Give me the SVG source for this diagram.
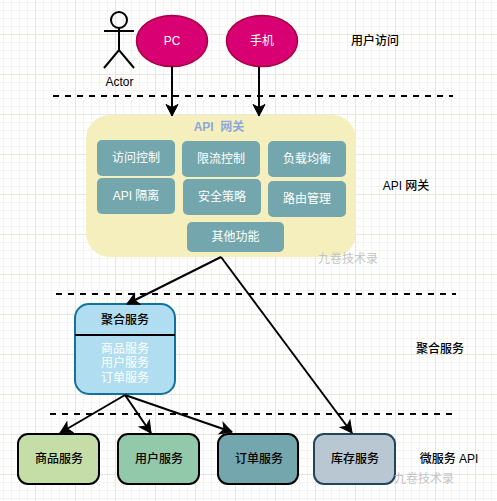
<svg xmlns="http://www.w3.org/2000/svg" width="497" height="501" viewBox="0 0 497 501">
<style>
text{font-family:"Liberation Sans","Noto Sans CJK SC",sans-serif;font-size:12px;text-anchor:middle}
.w{fill:#fff}.b{fill:#000}.lb{font-weight:500}
.wm{fill:#c4c4c4}
.in{fill:#74a7ad}
.ell{fill:#d80073;stroke:#a50040;stroke-width:1.5}
.svc{stroke-width:2}
.dash{stroke:#000;stroke-width:2;stroke-dasharray:6 6;fill:none}
.conn{stroke:#000;stroke-width:2;fill:none;marker-end:url(#ah)}
.act{stroke:#000;stroke-width:2;fill:none}
</style>
<defs>
<marker id="ah" markerUnits="userSpaceOnUse" markerWidth="15" markerHeight="15" refX="12.500" refY="7" orient="auto" viewBox="0 0 15 14"><path d="M1 1L12.500 7L1 13L4 7Z" fill="#000" stroke="#000" stroke-width="1"/></marker>
<pattern id="minor" width="8" height="8" patternUnits="userSpaceOnUse" x="-5" y="-6"><path d="M8 0.500H0.500V8" fill="none" stroke="#f4f3ee" stroke-width="1"/></pattern>
<pattern id="major" width="40" height="40" patternUnits="userSpaceOnUse" x="-5" y="-6"><path d="M40 0.500H0.500V40" fill="none" stroke="#e6e5de" stroke-width="1"/></pattern>
</defs>
<rect width="497" height="501" fill="#fff"/>
<rect width="497" height="501" fill="url(#minor)"/>
<rect width="497" height="501" fill="url(#major)"/>
<g id="separators">
<path class="dash" d="M53 96H453"/>
<path class="dash" d="M56 294H456"/>
<path class="dash" d="M50 414H452"/>
</g>
<g id="actor">
<circle class="act" cx="119" cy="20" r="8"/>
<path class="act" d="M104 31H134M119 28V50M104 68L119 50L134 68"/>
<text x="119.500" y="86" class="b">Actor</text>
</g>
<g id="pc"><ellipse class="ell" cx="172" cy="41" rx="35.500" ry="25.500"/><text x="172" y="45" class="w">PC</text></g>
<g id="phone"><ellipse class="ell" cx="262" cy="41" rx="35.500" ry="25.500"/><text x="262" y="45" class="w">手机</text></g>
<text id="label-user" x="375" y="44.500" class="b lb">用户访问</text>
<g id="gateway">
<rect x="86" y="115" width="270" height="142" rx="24" fill="#f5efbd"/>
<text x="219" y="131" fill="#8fa8dc" font-weight="bold" style="white-space:pre">API  网关</text>
<g id="g1"><rect class="in" x="97" y="140" width="78" height="36" rx="5"/><text x="136" y="162" class="w">访问控制</text></g>
<g id="g2"><rect class="in" x="182" y="141" width="78" height="36" rx="5"/><text x="221" y="163" class="w">限流控制</text></g>
<g id="g3"><rect class="in" x="268" y="141" width="78" height="36" rx="5"/><text x="307" y="163" class="w">负载均衡</text></g>
<g id="g4"><rect class="in" x="97" y="178" width="78" height="36" rx="5"/><text x="136" y="200" class="w">API 隔离</text></g>
<g id="g5"><rect class="in" x="183" y="179" width="78" height="36" rx="5"/><text x="222" y="201" class="w">安全策略</text></g>
<g id="g6"><rect class="in" x="268" y="181" width="78" height="36" rx="5"/><text x="307" y="203" class="w">路由管理</text></g>
<g id="g7"><rect class="in" x="187" y="222" width="97" height="30" rx="5"/><text x="235.500" y="241" class="w">其他功能</text></g>
</g>
<text id="label-gateway" x="406" y="190" class="b lb">API 网关</text>
<text x="348" y="263" class="wm">九卷技术录</text>
<g id="aggregate">
<rect x="75" y="304" width="100" height="90" rx="14" fill="#b1ddf0" stroke="#10739e" stroke-width="2"/>
<path d="M75 335H175" stroke="#000" stroke-width="2"/>
<text x="125" y="324" class="b lb">聚合服务</text>
<text x="125" y="352.500" class="w">商品服务</text>
<text x="125" y="367" class="w">用户服务</text>
<text x="125" y="381.500" class="w">订单服务</text>
</g>
<text id="label-agg" x="440" y="353" class="b lb">聚合服务</text>
<g id="svc1"><rect class="svc" x="18" y="434" width="81" height="50" rx="10" fill="#c5dea8" stroke="#000"/><text x="59" y="463" class="b lb">商品服务</text></g>
<g id="svc2"><rect class="svc" x="118" y="434" width="81" height="50" rx="10" fill="#93c9ab" stroke="#000"/><text x="159" y="463" class="b lb">用户服务</text></g>
<g id="svc3"><rect class="svc" x="218" y="434" width="80" height="50" rx="10" fill="#74a7ad" stroke="#000"/><text x="259" y="463" class="b lb">订单服务</text></g>
<g id="svc4"><rect class="svc" x="314" y="434" width="81" height="50" rx="10" fill="#b9c7d3" stroke="#23445d"/><text x="355" y="463" class="b lb">库存服务</text></g>
<text id="label-ms" x="449" y="463" class="b lb">微服务 API</text>
<text x="424" y="483" class="wm">九卷技术录</text>
<g id="connectors">
<path class="conn" d="M172 66V116"/>
<path class="conn" d="M259 67V116"/>
<path class="conn" d="M221 257L127 304"/>
<path class="conn" d="M221 257L352 433"/>
<path class="conn" d="M125 395L60 433"/>
<path class="conn" d="M125 395L151 433"/>
<path class="conn" d="M125 395L232 432"/>
</g>
</svg>
